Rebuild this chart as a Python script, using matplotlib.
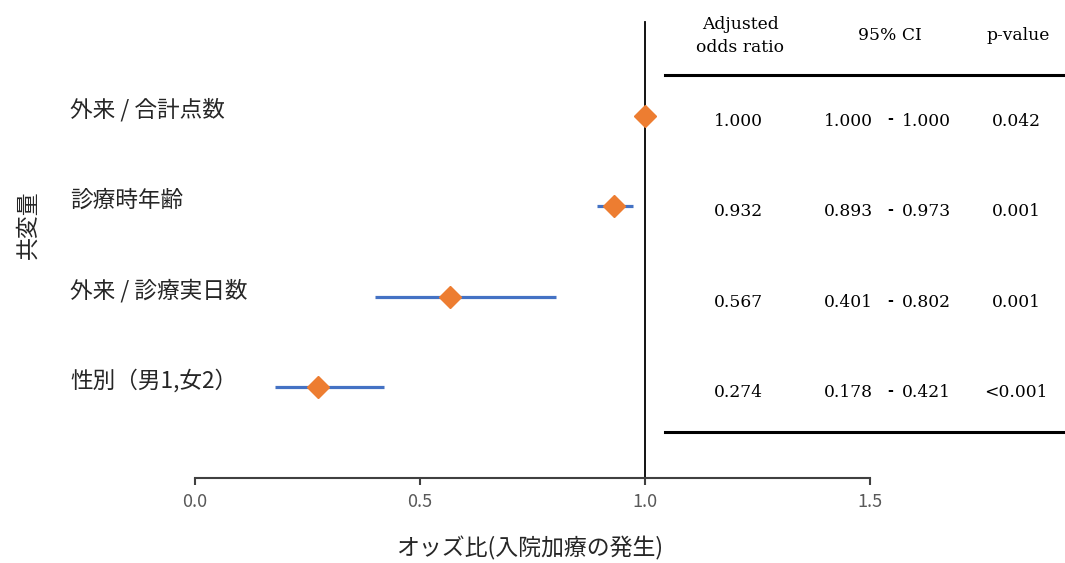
import matplotlib.pyplot as plt
import matplotlib.transforms as mtransforms

plt.rcParams['font.family'] = ['Noto Sans CJK JP', 'DejaVu Sans']

# data (top to bottom)
labels = ['外来 / 合計点数', '診療時年齢', '外来 / 診療実日数', '性別（男1,女2）']
odds = [1.000, 0.932, 0.567, 0.274]
ci_low = [1.000, 0.893, 0.401, 0.178]
ci_high = [1.000, 0.973, 0.802, 0.421]
p_values = ['0.042', '0.001', '0.001', '<0.001']
xticks = [0.0, 0.5, 1.0, 1.5]

W, H = 1065, 563
fig = plt.figure(figsize=(W / 100, H / 100), dpi=100)
ax = fig.add_axes([195 / W, (H - 478) / H, (870 - 195) / W, 478 / H])

ypos = [4, 3, 2, 1]
for y, o, lo, hi in zip(ypos, odds, ci_low, ci_high):
    ax.plot([lo, hi], [y, y], color='#4472C4', lw=2.3, solid_capstyle='butt', zorder=2)
ax.plot(odds, ypos, 'D', color='#ED7D31', ms=11, zorder=3, clip_on=False)

ax.plot([1.0, 1.0], [0, 5.04], color='black', lw=1.3, zorder=1, clip_on=False)

ax.set_xlim(0, 1.5)
ax.set_ylim(0, 5.28)
for s in ['top', 'right', 'left']:
    ax.spines[s].set_visible(False)
ax.spines['bottom'].set_color('#404040')
ax.spines['bottom'].set_linewidth(1.5)
ax.set_yticks([])
ax.set_xticks(xticks, [f'{t:.1f}' for t in xticks])
ax.tick_params(axis='x', direction='out', length=5, width=1.5, color='#404040', pad=6,
               labelsize=13, labelcolor='#595959')
ax.patch.set_visible(False)

# category labels
tr = mtransforms.blended_transform_factory(fig.transFigure, ax.transData)
for y, lab in zip(ypos, labels):
    ax.text(70 / W, y + 0.07, lab, transform=tr, ha='left', va='center', fontsize=16.3, color='#262626')

fig.text(28 / W, 1 - 225 / H, '共変量', rotation=90, ha='center', va='center', fontsize=16.5, color='#262626')
fig.text(530 / W, 1 - 548 / H, 'オッズ比(入院加療の発生)', ha='center', va='center', fontsize=16.5, color='#262626')

# table on the right
serif = 'DejaVu Serif'
fs = 12.3
fig.text(740 / W, 1 - 36 / H, 'Adjusted\nodds ratio', ha='center', va='center', fontsize=fs,
         family=serif, linespacing=1.45)
fig.text(890 / W, 1 - 36 / H, '95% CI', ha='center', va='center', fontsize=fs, family=serif)
fig.text(1018 / W, 1 - 36 / H, 'p-value', ha='center', va='center', fontsize=fs, family=serif)
fig.add_artist(plt.Line2D([665 / W, 1065 / W], [1 - 75 / H, 1 - 75 / H], color='black', lw=2.2))
fig.add_artist(plt.Line2D([665 / W, 1065 / W], [1 - 432 / H, 1 - 432 / H], color='black', lw=2.2))

for y, o, lo, hi, p in zip(ypos, odds, ci_low, ci_high, p_values):
    yy = y - 0.06
    ax.text(738 / W, yy, f'{o:.3f}', transform=tr, ha='center', va='center', fontsize=fs, family=serif)
    ax.text(848 / W, yy, f'{lo:.3f}', transform=tr, ha='center', va='center', fontsize=fs, family=serif)
    ax.text(890 / W, yy + 0.02, '-', transform=tr, ha='center', va='center', fontsize=fs - 2, family=serif,
            fontweight='bold')
    ax.text(926 / W, yy, f'{hi:.3f}', transform=tr, ha='center', va='center', fontsize=fs, family=serif)
    ax.text(1016 / W, yy, p, transform=tr, ha='center', va='center', fontsize=fs, family=serif)

fig.savefig('out.png', dpi=100)
